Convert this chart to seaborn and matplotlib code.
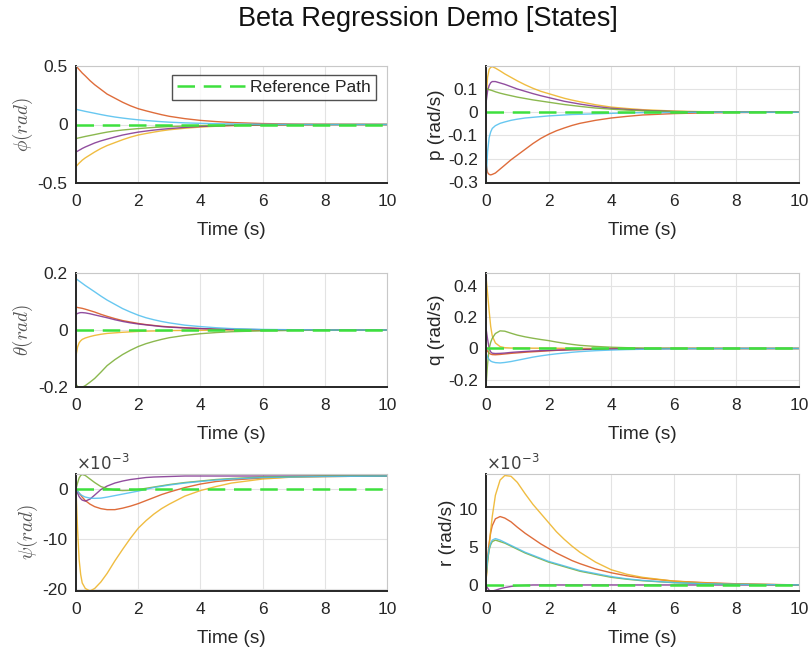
import numpy as np
import pandas as pd
import matplotlib
matplotlib.use("Agg")
import matplotlib.pyplot as plt
import seaborn as sns

# ---------------- data ----------------
TIME = [0, 0.05, 0.1, 0.15, 0.2, 0.3, 0.45, 0.6, 0.8, 1, 1.25, 1.5, 1.75, 2, 2.25, 2.5, 2.75, 3, 3.5, 4, 4.5, 5, 6, 7, 8, 10]
RUNS = ["run1", "run2", "run3", "run4", "run5"]
RUN_COLORS = ["#D95319", "#EDB120", "#7E2F8E", "#77AC30", "#4DBEEE"]
REF_COLOR = "#3EE03E"
REF_LABEL = "Reference Path"

phi_orange = [0.5, 0.485, 0.47, 0.455, 0.44, 0.415, 0.375, 0.34, 0.3, 0.26, 0.225, 0.19, 0.16, 0.135, 0.117, 0.1, 0.084, 0.07, 0.05, 0.035, 0.025, 0.017, 0.008, 0.004, 0.002, 0]
phi_yellow = [-0.36, -0.345, -0.33, -0.318, -0.305, -0.285, -0.26, -0.235, -0.205, -0.18, -0.155, -0.13, -0.108, -0.09, -0.077, -0.065, -0.054, -0.045, -0.032, -0.022, -0.015, -0.01, -0.005, -0.002, -0.001, 0]
phi_purple = [-0.235, -0.228, -0.22, -0.213, -0.205, -0.192, -0.175, -0.158, -0.14, -0.125, -0.107, -0.09, -0.077, -0.065, -0.056, -0.048, -0.041, -0.035, -0.025, -0.017, -0.012, -0.008, -0.004, -0.002, -0.001, 0]
phi_green = [-0.12, -0.117, -0.114, -0.111, -0.108, -0.102, -0.094, -0.086, -0.075, -0.065, -0.055, -0.047, -0.041, -0.035, -0.03, -0.025, -0.021, -0.018, -0.013, -0.009, -0.006, -0.004, -0.002, -0.001, 0, 0]
phi_cyan = [0.13, 0.127, 0.124, 0.121, 0.118, 0.112, 0.104, 0.096, 0.085, 0.075, 0.064, 0.055, 0.047, 0.04, 0.034, 0.029, 0.024, 0.02, 0.014, 0.01, 0.007, 0.005, 0.002, 0.001, 0, 0]

p_orange = [-0.22, -0.26, -0.268, -0.27, -0.268, -0.262, -0.245, -0.228, -0.205, -0.185, -0.16, -0.135, -0.113, -0.095, -0.08, -0.068, -0.057, -0.048, -0.035, -0.025, -0.018, -0.012, -0.006, -0.003, -0.0015, 0]
p_yellow = [0.05, 0.15, 0.185, 0.193, 0.196, 0.19, 0.178, 0.165, 0.15, 0.135, 0.118, 0.103, 0.09, 0.08, 0.07, 0.06, 0.052, 0.045, 0.032, 0.022, 0.016, 0.011, 0.005, 0.002, 0.001, 0]
p_purple = [0.04, 0.09, 0.115, 0.127, 0.132, 0.132, 0.126, 0.12, 0.11, 0.1, 0.09, 0.08, 0.071, 0.063, 0.055, 0.047, 0.041, 0.035, 0.025, 0.017, 0.012, 0.008, 0.003, 0.001, 0.0005, 0]
p_green = [0.105, 0.1, 0.097, 0.095, 0.093, 0.088, 0.082, 0.077, 0.071, 0.065, 0.059, 0.053, 0.048, 0.043, 0.038, 0.033, 0.029, 0.025, 0.018, 0.013, 0.009, 0.006, 0.003, 0.001, 0.0005, 0]
p_cyan = [-0.3, -0.17, -0.11, -0.085, -0.07, -0.058, -0.048, -0.042, -0.035, -0.03, -0.025, -0.022, -0.019, -0.016, -0.014, -0.012, -0.01, -0.009, -0.007, -0.005, -0.003, -0.002, -0.001, 0, 0, 0]

theta_orange = [0.08, 0.079, 0.078, 0.077, 0.076, 0.073, 0.068, 0.063, 0.055, 0.048, 0.04, 0.033, 0.028, 0.023, 0.019, 0.016, 0.013, 0.011, 0.008, 0.005, 0.0035, 0.0025, 0.001, 0.0005, 0, 0]
theta_yellow = [-0.09, -0.06, -0.045, -0.038, -0.033, -0.028, -0.023, -0.019, -0.015, -0.012, -0.01, -0.008, -0.0065, -0.005, -0.004, -0.0035, -0.0027, -0.002, -0.0015, -0.001, -0.0005, 0, 0, 0, 0, 0]
theta_purple = [0.055, 0.058, 0.06, 0.061, 0.061, 0.06, 0.057, 0.053, 0.048, 0.043, 0.036, 0.03, 0.025, 0.021, 0.018, 0.015, 0.012, 0.01, 0.007, 0.005, 0.003, 0.002, 0.001, 0.0005, 0, 0]
theta_green = [-0.19, -0.198, -0.203, -0.203, -0.201, -0.195, -0.183, -0.17, -0.148, -0.125, -0.104, -0.086, -0.071, -0.058, -0.048, -0.04, -0.033, -0.027, -0.019, -0.013, -0.009, -0.006, -0.003, -0.0015, -0.0005, 0]
theta_cyan = [0.18, 0.176, 0.172, 0.168, 0.164, 0.156, 0.145, 0.134, 0.119, 0.105, 0.09, 0.075, 0.063, 0.052, 0.043, 0.036, 0.03, 0.025, 0.017, 0.012, 0.008, 0.005, 0.002, 0.001, 0, 0]

q_orange = [0.0, -0.018, -0.03, -0.036, -0.039, -0.04, -0.038, -0.035, -0.031, -0.028, -0.024, -0.021, -0.018, -0.015, -0.012, -0.01, -0.008, -0.007, -0.005, -0.003, -0.002, -0.0015, -0.0005, 0, 0, 0]
q_yellow = [0.46, 0.35, 0.24, 0.14, 0.08, 0.035, 0.012, 0.005, 0.003, 0.003, 0.003, 0.002, 0.002, 0.002, 0.0015, 0.001, 0.001, 0.001, 0, 0, 0, 0, 0, 0, 0, 0]
q_purple = [0.13, 0.06, 0.0, -0.022, -0.03, -0.032, -0.031, -0.029, -0.025, -0.022, -0.019, -0.016, -0.014, -0.012, -0.01, -0.009, -0.007, -0.006, -0.004, -0.003, -0.002, -0.001, 0, 0, 0, 0]
q_green = [-0.24, -0.1, 0.0, 0.04, 0.065, 0.095, 0.112, 0.11, 0.097, 0.085, 0.074, 0.065, 0.057, 0.05, 0.041, 0.033, 0.026, 0.02, 0.013, 0.008, 0.005, 0.003, 0.001, 0, 0, 0]
q_cyan = [-0.03, -0.055, -0.07, -0.08, -0.085, -0.09, -0.092, -0.089, -0.083, -0.075, -0.065, -0.055, -0.047, -0.04, -0.034, -0.029, -0.024, -0.02, -0.014, -0.01, -0.007, -0.005, -0.002, -0.001, 0, 0]

# psi and r in units of 1e-3
psi_orange = [0, -0.4, -0.8, -1.2, -1.6, -2.3, -3.0, -3.5, -3.9, -4.1, -4.1, -3.8, -3.4, -2.9, -2.3, -1.7, -1.1, -0.6, 0.3, 1.0, 1.5, 1.8, 2.2, 2.4, 2.5, 2.6]
psi_yellow = [0, -8, -14, -17, -18.7, -19.8, -20.3, -19.8, -18.5, -16.8, -14.3, -12, -9.8, -7.8, -6.3, -5, -3.9, -3, -1.4, -0.3, 0.5, 1.2, 2.0, 2.4, 2.5, 2.6]
psi_purple = [0, -0.8, -1.5, -1.9, -2.2, -2.4, -2.0, -1.2, -0.1, 0.6, 1.2, 1.6, 1.9, 2.1, 2.3, 2.4, 2.45, 2.5, 2.6, 2.6, 2.6, 2.6, 2.6, 2.6, 2.6, 2.6]
psi_green = [0, 1.2, 2.2, 2.7, 2.9, 2.7, 2.0, 1.3, 0.5, 0.1, -0.2, -0.3, -0.25, -0.1, 0.15, 0.4, 0.65, 0.9, 1.3, 1.6, 1.9, 2.1, 2.4, 2.5, 2.6, 2.6]
psi_cyan = [0, -0.4, -0.8, -1.1, -1.3, -1.6, -1.8, -1.85, -1.8, -1.6, -1.3, -1.0, -0.7, -0.4, -0.05, 0.3, 0.55, 0.8, 1.2, 1.5, 1.8, 2.0, 2.3, 2.4, 2.5, 2.6]

r_orange = [0.5, 3.5, 5.5, 6.9, 7.8, 8.7, 9.0, 8.8, 8.3, 7.6, 6.8, 6.1, 5.4, 4.8, 4.2, 3.7, 3.2, 2.8, 2.1, 1.6, 1.2, 0.9, 0.5, 0.3, 0.15, 0]
r_yellow = [0.5, 2.8, 5.0, 7.2, 9.0, 11.8, 13.8, 14.4, 14.3, 13.5, 12.0, 10.6, 9.4, 8.2, 7.0, 6.0, 5.1, 4.3, 3.0, 2.0, 1.4, 1.0, 0.5, 0.25, 0.1, 0]
r_purple = [0, -0.4, -0.7, -0.8, -0.8, -0.7, -0.5, -0.35, -0.2, -0.1, -0.05, 0, 0, 0, 0, 0, 0, 0, 0, 0, 0, 0, 0, 0, 0, 0]
r_green = [1.0, 3.2, 4.6, 5.3, 5.7, 5.9, 5.7, 5.5, 5.1, 4.7, 4.2, 3.8, 3.4, 3.0, 2.7, 2.4, 2.1, 1.8, 1.4, 1.0, 0.75, 0.55, 0.3, 0.15, 0.08, 0]
r_cyan = [1.0, 3.3, 4.8, 5.5, 5.9, 6.1, 5.9, 5.6, 5.2, 4.8, 4.3, 3.9, 3.5, 3.1, 2.8, 2.5, 2.2, 1.9, 1.5, 1.1, 0.8, 0.6, 0.3, 0.15, 0.08, 0]

REF = [0] * len(TIME)

XTICKS = [0, 2, 4, 6, 8, 10]
XTICKLABELS = ["0", "2", "4", "6", "8", "10"]

PANELS = [
    dict(series=[phi_orange, phi_yellow, phi_purple, phi_green, phi_cyan], ylabel=r"$\phi(rad)$",
         yticks=[-0.5, 0, 0.5], yticklabels=["-0.5", "0", "0.5"], ylim=(-0.5, 0.5), exp=False),
    dict(series=[p_orange, p_yellow, p_purple, p_green, p_cyan], ylabel="p (rad/s)",
         yticks=[-0.3, -0.2, -0.1, 0, 0.1], yticklabels=["-0.3", "-0.2", "-0.1", "0", "0.1"], ylim=(-0.305, 0.199), exp=False),
    dict(series=[theta_orange, theta_yellow, theta_purple, theta_green, theta_cyan], ylabel=r"$\theta(rad)$",
         yticks=[-0.2, 0, 0.2], yticklabels=["-0.2", "0", "0.2"], ylim=(-0.2, 0.2), exp=False),
    dict(series=[q_orange, q_yellow, q_purple, q_green, q_cyan], ylabel="q (rad/s)",
         yticks=[-0.2, 0, 0.2, 0.4], yticklabels=["-0.2", "0", "0.2", "0.4"], ylim=(-0.245, 0.48), exp=False),
    dict(series=[psi_orange, psi_yellow, psi_purple, psi_green, psi_cyan], ylabel=r"$\psi(rad)$",
         yticks=[-20, -10, 0], yticklabels=["-20", "-10", "0"], ylim=(-20.3, 3.0), exp=True),
    dict(series=[r_orange, r_yellow, r_purple, r_green, r_cyan], ylabel="r (rad/s)",
         yticks=[0, 5, 10], yticklabels=["0", "5", "10"], ylim=(-0.8, 14.6), exp=True),
]

# ---------------- styling ----------------
sns.set_theme(style="white")
plt.rcParams["font.family"] = ["Liberation Sans", "DejaVu Sans"]
plt.rcParams["axes.unicode_minus"] = False
plt.rcParams["mathtext.fontset"] = "cm"

W, H = 812, 655
fig = plt.figure(figsize=(W / 100, H / 100), dpi=100)
fig.patch.set_facecolor("white")

# axes boxes in pixels: (left, top, right, bottom)
BOXES = [(76, 66, 387, 183), (486, 66, 799, 183),
         (76, 273, 387, 387), (486, 273, 799, 387),
         (76, 474, 387, 591), (486, 474, 799, 591)]

DARK = "#262626"
TICK_FS = 12.5
LABEL_FS = 13.7

for i, (panel, box) in enumerate(zip(PANELS, BOXES)):
    l, t, r, b = box
    ax = fig.add_axes([l / W, 1 - b / H, (r - l) / W, (b - t) / H])
    rows = []
    for run, vals in zip(RUNS, panel["series"]):
        for tt, vv in zip(TIME, vals):
            rows.append((run, tt, vv))
    df = pd.DataFrame(rows, columns=["run", "t", "v"])
    sns.lineplot(data=df, x="t", y="v", hue="run", palette=RUN_COLORS, estimator=None,
                 sort=False, legend=False, lw=1.0, alpha=0.85, ax=ax)
    ref_df = pd.DataFrame({"t": TIME, "v": REF})
    sns.lineplot(data=ref_df, x="t", y="v", color=REF_COLOR, lw=1.8, ax=ax,
                 estimator=None, legend=False)
    ref_line = ax.lines[-1]
    ref_line.set_dashes([7, 3.5])

    ax.set_xlim(0, 10)
    ax.set_ylim(*panel["ylim"])
    ax.set_xticks(XTICKS)
    ax.set_xticklabels(XTICKLABELS)
    ax.set_yticks(panel["yticks"])
    ax.set_yticklabels(panel["yticklabels"])
    ax.tick_params(axis="both", direction="in", length=3, width=0.6, colors=DARK,
                   labelsize=TICK_FS, pad=6)
    ax.tick_params(axis="x", pad=8)
    ax.grid(True, color="#E3E3E3", lw=0.8)
    ax.set_axisbelow(True)
    for side in ["left", "bottom"]:
        ax.spines[side].set_color(DARK)
        ax.spines[side].set_linewidth(1.4)
    for side in ["top", "right"]:
        ax.spines[side].set_color("#C8C8C8")
        ax.spines[side].set_linewidth(0.8)
    ax.set_xlabel("Time (s)", fontsize=LABEL_FS, color=DARK, labelpad=9)
    ycol = "#555555" if panel["ylabel"].startswith("$") else DARK
    ax.set_ylabel(panel["ylabel"], fontsize=LABEL_FS, color=ycol, labelpad=2)
    if panel["exp"]:
        ax.text(0.0, 1.01, r"$\times10^{-3}$", transform=ax.transAxes, ha="left", va="bottom",
                fontsize=12, color="#404040", math_fontfamily="dejavusans")
    if i == 0:
        leg = ax.legend(handles=[ref_line], labels=[REF_LABEL], loc="upper right",
                        bbox_to_anchor=(0.965, 0.925), frameon=True, fancybox=False,
                        fontsize=12.5, handlelength=3.9, borderpad=0.3, handletextpad=0.3,
                        borderaxespad=0)
        leg.get_frame().set_edgecolor(DARK)
        leg.get_frame().set_linewidth(1.0)
        for txt in leg.get_texts():
            txt.set_color(DARK)

fig.text(428 / W, 1 - 19 / H, "Beta Regression Demo [States]", ha="center", va="center",
         fontsize=19.5, color="#111111")

fig.savefig("out.png", dpi=100, facecolor="white")
